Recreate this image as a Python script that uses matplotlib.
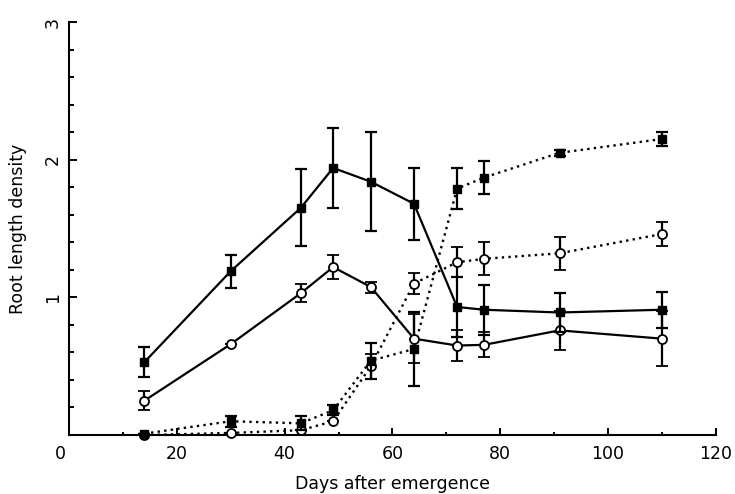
import numpy as np
import matplotlib
matplotlib.use('Agg')
import matplotlib.pyplot as plt
import matplotlib.ticker as mticker

# ──────────────────────────────────────────────
# DATA  (root length density vs. days after emergence)
# ──────────────────────────────────────────────
days = [14, 30, 43, 49, 56, 64, 72, 77, 91, 110]

# solid lines
sq_solid     = [0.53, 1.19, 1.65, 1.94, 1.84, 1.68, 0.93, 0.91, 0.89, 0.91]
sq_solid_err = [0.11, 0.12, 0.28, 0.29, 0.36, 0.26, 0.22, 0.18, 0.14, 0.13]
ci_solid     = [0.25, 0.66, 1.03, 1.22, 1.075, 0.70, 0.65, 0.655, 0.76, 0.70]
ci_solid_err = [0.07, 0.0, 0.065, 0.09, 0.04, 0.18, 0.11, 0.09, 0.14, 0.20]

# dotted lines
sq_dot     = [0.01, 0.10, 0.085, 0.18, 0.54, 0.625, 1.79, 1.87, 2.05, 2.15]
sq_dot_err = [0.0, 0.04, 0.05, 0.035, 0.13, 0.27, 0.15, 0.12, 0.02, 0.05]
ci_dot     = [0.0, 0.015, 0.035, 0.10, 0.50, 1.10, 1.255, 1.28, 1.32, 1.46]
ci_dot_err = [0.0, 0.0, 0.0, 0.0, 0.09, 0.075, 0.11, 0.12, 0.12, 0.09]

# ──────────────────────────────────────────────
# PLOT
# ──────────────────────────────────────────────
plt.rcParams['font.family'] = ['DejaVu Sans']

fig = plt.figure(figsize=(7.35, 4.94), dpi=100)
ax = fig.add_axes([0.0939, 0.1194, 0.880, 0.836])

DOTS = (0, (1, 1.8))
common = dict(color='black', ecolor='black', elinewidth=1.6, capsize=4,
              capthick=1.6, clip_on=False)

# dotted series underneath
ax.errorbar(days, ci_dot, yerr=ci_dot_err, fmt='o', ls=DOTS, lw=1.7,
            ms=6.5, mfc='white', mew=1.3, zorder=3, **common)
ax.errorbar(days, sq_dot, yerr=sq_dot_err, fmt='s', ls=DOTS, lw=1.7,
            ms=5.2, mfc='black', zorder=4, **common)

# solid series
ax.errorbar(days, ci_solid, yerr=ci_solid_err, fmt='o', ls='-', lw=1.6,
            ms=6.5, mfc='white', mew=1.3, zorder=5, **common)
ax.errorbar(days, sq_solid, yerr=sq_solid_err, fmt='s', ls='-', lw=1.6,
            ms=5.2, mfc='black', zorder=6, **common)

ax.set_xlim(0, 120)
ax.set_ylim(0, 3)

for side in ['top', 'right']:
    ax.spines[side].set_visible(False)
for side in ['left', 'bottom']:
    ax.spines[side].set_linewidth(1.5)

ax.xaxis.set_major_locator(mticker.MultipleLocator(20))
ax.xaxis.set_minor_locator(mticker.MultipleLocator(10))
# origin label is drawn separately, slightly left of the corner
ax.xaxis.set_major_formatter(mticker.FuncFormatter(lambda v, p: '' if v == 0 else f'{v:g}'))
ax.set_yticks([1, 2, 3])
ax.yaxis.set_minor_locator(mticker.MultipleLocator(0.2))

ax.tick_params(axis='x', which='major', direction='in', length=5, width=1.4,
               labelsize=12.5, pad=7)
ax.tick_params(axis='x', which='minor', direction='in', length=2.5, width=1.4)
ax.tick_params(axis='y', which='major', direction='in', length=6, width=1.4,
               labelsize=12.5, pad=5, labelrotation=90)
ax.tick_params(axis='y', which='minor', direction='in', length=3.6, width=1.4)
for lab in ax.get_yticklabels():
    lab.set_va('center')

ax.annotate('0', xy=(0, 0), xytext=(-6, -7), textcoords='offset points',
            ha='center', va='top', fontsize=12.5, annotation_clip=False)

ax.set_xlabel('Days after emergence', fontsize=12.5, labelpad=9)
ax.set_ylabel('Root length density', fontsize=12.5, labelpad=12)

fig.savefig('out.png', dpi=100)
